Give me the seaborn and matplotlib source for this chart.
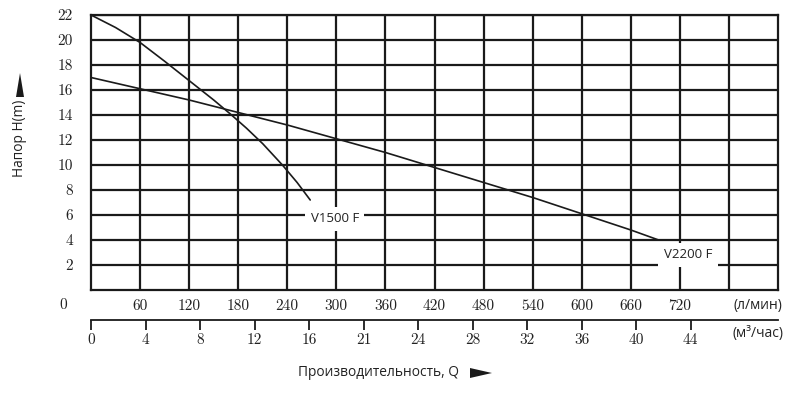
import matplotlib
matplotlib.use("Agg")
import matplotlib.pyplot as plt
from matplotlib.patches import Polygon
import seaborn as sns

# flow in l/min, head in m
v1500_q = [0, 30, 60, 90, 120, 150, 170, 190, 210, 234, 252, 268]
v1500_h = [22, 21.0, 19.8, 18.3, 16.75, 15.2, 14.1, 12.95, 11.7, 10.0, 8.6, 7.2]

v2200_q = [0, 60, 120, 180, 240, 300, 360, 420, 480, 540, 600, 660, 694]
v2200_h = [17, 16.1, 15.2, 14.2, 13.2, 12.1, 11, 9.8, 8.6, 7.4, 6.1, 4.8, 4]

lmin_ticks = list(range(60, 781, 60))
lmin_labels = [str(v) for v in range(60, 721, 60)] + [""]
m3h_ticks = [0, 4, 8, 12, 16, 20, 24, 28, 32, 36, 40, 44]
m3h_labels = ["0", "4", "8", "12", "16", "21", "24", "28", "32", "36", "40", "44"]
head_ticks = list(range(2, 23, 2))

sns.set_style("white")
plt.rcParams["font.family"] = ["Open Sans", "DejaVu Sans"]
num_font = "cmr10"
ink = "#1a1a1a"
txt = "#222"
W, H = 797, 396

fig, ax = plt.subplots(figsize=(7.97, 3.96), dpi=100)
fig.subplots_adjust(left=0.1142, right=0.9762, bottom=0.2677, top=0.9621)

sns.lineplot(x=v1500_q, y=v1500_h, ax=ax, color=ink, lw=1.2,
             estimator=None, sort=False, zorder=3)
sns.lineplot(x=v2200_q, y=v2200_h, ax=ax, color=ink, lw=1.2,
             estimator=None, sort=False, zorder=3)

ax.set_xlim(0, 840)
ax.set_ylim(0, 22)
ax.set_xticks(lmin_ticks)
ax.set_xticklabels(lmin_labels, fontfamily=num_font, fontsize=11, color=txt)
ax.set_yticks(head_ticks)
ax.set_yticklabels([str(v) for v in head_ticks], fontfamily=num_font,
                   fontsize=11, color=txt)
ax.tick_params(axis="x", length=0, pad=7)
ax.tick_params(axis="y", length=0, pad=13)
ax.grid(True, color=ink, lw=1.6)
ax.set_axisbelow(True)
for s in ax.spines.values():
    s.set_color(ink)
    s.set_linewidth(1.6)

# second flow scale in m3/h
sec = ax.secondary_xaxis(-0.109, functions=(lambda q: q * 60 / 1000,
                                            lambda m: m * 1000 / 60))
sec.set_xticks(m3h_ticks)
sec.set_xticklabels(m3h_labels, fontfamily=num_font, fontsize=11, color=txt)
sec.tick_params(direction="out", length=7.5, width=1.3, pad=2, colors=ink)
sec.tick_params(labelcolor=txt)
sec.spines["bottom"].set_linewidth(1.3)
sec.spines["bottom"].set_color(ink)

ax.text(298, 5.7, "V1500 F", ha="center", va="center", fontsize=9.5, color=txt,
        zorder=4, bbox=dict(fc="white", ec="none", pad=4))
ax.text(730, 2.8, "V2200 F", ha="center", va="center", fontsize=9.5, color=txt,
        zorder=4, bbox=dict(fc="white", ec="none", pad=4))

fig.text(63 / W, 1 - 305 / H, "0", fontfamily=num_font, fontsize=11,
         color=txt, ha="center", va="center")
fig.text(758 / W, 1 - 305 / H, "(л/мин)", fontsize=10, color=txt,
         ha="center", va="center")
fig.text(758 / W, 1 - 333 / H, "(м³/час)", fontsize=10, color=txt,
         ha="center", va="center")
fig.text(379 / W, 1 - 373 / H, "Производительность, Q", fontsize=9.9,
         color=txt, ha="center", va="center")
fig.text(20 / W, 1 - 138 / H, "Напор H(m)", fontsize=9.9, color=txt,
         ha="center", va="center", rotation=90)

# axis direction arrows
def px(points):
    return [(x / W, 1 - y / H) for x, y in points]

fig.add_artist(Polygon(px([(470, 368), (470, 378), (492, 373)]),
                       closed=True, fc=ink, ec="none",
                       transform=fig.transFigure))
fig.add_artist(Polygon(px([(16, 97), (24, 97), (20, 73)]),
                       closed=True, fc=ink, ec="none",
                       transform=fig.transFigure))

fig.savefig("out.png", dpi=100)
